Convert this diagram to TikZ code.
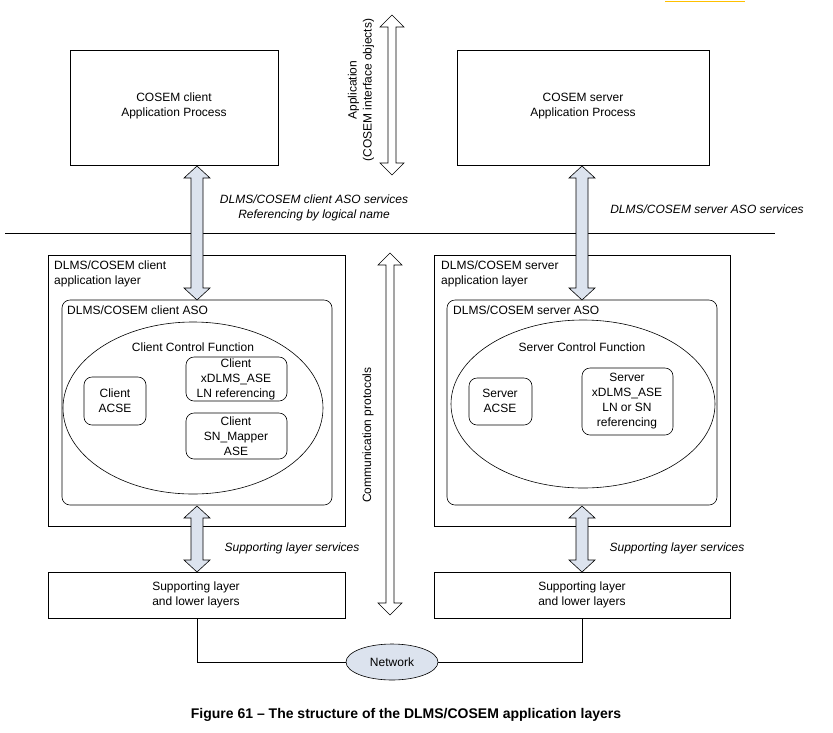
\documentclass[tikz,border=0pt]{standalone}
\usepackage{fontspec}
\setmainfont{Liberation Sans}
\begin{document}
\newcommand\dblarrow[6]{% x, ytop, ybot, shaft half, head half, fill
  \filldraw[fill=#6,draw=black,line width=0.6pt] (#1-#4,#2+12) -- (#1-#5,#2+12) -- (#1,#2) -- (#1+#5,#2+12) -- (#1+#4,#2+12)
   -- (#1+#4,#3-12) -- (#1+#5,#3-12) -- (#1,#3) -- (#1-#5,#3-12) -- (#1-#4,#3-12) -- cycle;}
\begin{tikzpicture}[x=1pt,y=-1pt,
  box/.style={draw,line width=0.6pt},
  rbox/.style={draw,line width=0.6pt,rounded corners=8pt},
  txt/.style={font=\fontsize{12}{15}\selectfont,align=center,inner sep=1pt},
  itx/.style={font=\fontsize{12}{15}\selectfont\itshape,align=center,inner sep=1pt}]
\useasboundingbox (0,0) rectangle (833,732);
\definecolor{ab}{HTML}{DCE3EE}
\definecolor{org}{HTML}{FFC000}
\draw[org,line width=1.2pt] (665,1.5) -- (745,1.5);
% top boxes
\draw[box] (70,50) rectangle (278,165);
\node[txt] at (174,106) {COSEM client\\Application Process};
\draw[box] (457,50) rectangle (709,165);
\node[txt] at (583,106) {COSEM server\\Application Process};
\draw[line width=0.8pt] (5,233) -- (775,233);
% client layer
\draw[box] (48,255) rectangle (345,526);
\node[txt,align=left,anchor=north west] at (53,260) {DLMS/COSEM client\\application layer};
\draw[rbox] (62,300) rectangle (332,505);
\node[txt,anchor=north west] at (66,305) {DLMS/COSEM client ASO};
\draw[line width=0.6pt] (193,408) ellipse [x radius=130,y radius=86];
\node[txt] at (193,347) {Client Control Function};
\draw[rbox] (84,377) rectangle (146,425); \node[txt] at (115,401) {Client\\ACSE};
\draw[rbox] (186,357) rectangle (287,401); \node[txt] at (236,379) {Client\\xDLMS\_ASE\\LN referencing};
\draw[rbox] (186,413) rectangle (287,459); \node[txt] at (236,436) {Client\\SN\_Mapper\\ASE};
% server layer
\draw[box] (434,255) rectangle (730,526);
\node[txt,align=left,anchor=north west] at (440,260) {DLMS/COSEM server\\application layer};
\draw[rbox] (447,300) rectangle (717,505);
\node[txt,anchor=north west] at (452,305) {DLMS/COSEM server ASO};
\draw[line width=0.6pt] (583,404) ellipse [x radius=132,y radius=84];
\node[txt] at (582,347) {Server Control Function};
\draw[rbox] (469,378) rectangle (532,425); \node[txt] at (500,401) {Server\\ACSE};
\draw[rbox] (582,368) rectangle (673,435); \node[txt] at (627,401) {Server\\xDLMS\_ASE\\LN or SN\\referencing};
% supporting
\draw[box] (48,572) rectangle (345,618); \node[txt] at (196,595) {Supporting  layer\\and lower layers};
\draw[box] (434,572) rectangle (730,618); \node[txt] at (582,595) {Supporting  layer\\and lower layers};
% network
\draw[line width=0.6pt] (197,618) -- (197,662) -- (346,662);
\draw[line width=0.6pt] (582,618) -- (582,662) -- (438,662);
\filldraw[fill=ab,line width=0.6pt] (392,662) ellipse [x radius=46,y radius=18];
\node[txt] at (392,662) {Network};
% arrows
\dblarrow{197}{166}{300}{6}{13}{ab}
\dblarrow{582}{166}{300}{6}{13}{ab}
\dblarrow{197}{506}{572}{6}{13}{ab}
\dblarrow{582}{506}{572}{6}{13}{ab}
\dblarrow{392}{15}{175}{4}{12}{white}
\dblarrow{390}{253}{615}{4}{12}{white}
% labels
\node[txt,rotate=90] at (361,90) {Application\\(COSEM interface objects)};
\node[txt,rotate=90] at (368,435) {Communication protocols};
\node[itx] at (314,208) {DLMS/COSEM client ASO services\\Referencing by logical name};
\node[itx] at (707,209) {DLMS/COSEM server ASO services};
\node[itx] at (292,548) {Supporting layer services};
\node[itx] at (677,548) {Supporting layer services};
\node[font=\fontsize{14}{16}\selectfont\bfseries] at (406,715) {Figure 61 – The structure of the DLMS/COSEM application layers};
\end{tikzpicture}
\end{document}
